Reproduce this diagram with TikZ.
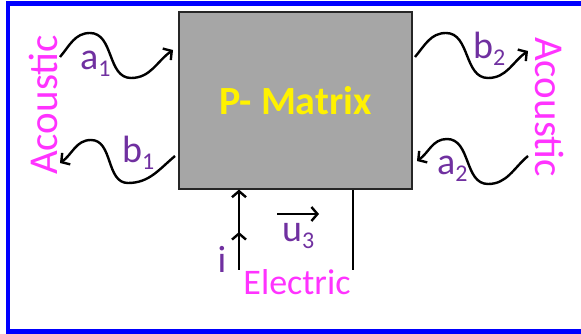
\documentclass[tikz,border=0pt]{standalone}
\usepackage{fontspec}
\setmainfont{Carlito}
\usetikzlibrary{arrows.meta}
\definecolor{frameblue}{RGB}{0,0,255}
\definecolor{boxgray}{RGB}{166,166,166}
\definecolor{lblpurple}{RGB}{112,48,160}
\definecolor{portpink}{RGB}{255,51,255}
\newcommand{\lblsub}[1]{\raisebox{-7pt}{\fontsize{24}{24}\selectfont #1}}

\begin{document}
\begin{tikzpicture}[x=1pt, y=1pt,
    wave/.style={line width=2.4pt, -{Straight Barb[length=6pt,width=14pt]}},
    lbl/.style={text=lblpurple, font=\fontsize{38}{38}\selectfont, inner sep=0pt, anchor=base west},
    port/.style={text=portpink, font=\fontsize{41}{41}\selectfont, inner sep=0pt}]
    \useasboundingbox (0,0) rectangle (581,334);
    % frame, open on the right
    \draw[frameblue, line width=4.5pt] (581,330.5) -- (8,330.5) -- (8,2.5) -- (581,2.5);
    \node[draw=black!85, line width=1.2pt, fill=boxgray, minimum width=233pt, minimum height=177pt,
          inner sep=0pt, text=yellow, font=\bfseries\fontsize{40}{40}\selectfont] (pmat) at (295.5,233.5) {P- Matrix};
    % acoustic ports
    \node[port, rotate=90] (acl) at (43,229) {Acoustic};
    \node[port, rotate=-90] (acr) at (550,227) {Acoustic};
    \coordinate (a1s) at (60,277);  \coordinate (a1p) at (90,301);
    \coordinate (a1t) at (131,256); \coordinate (a1e) at (173,284);
    \coordinate (b1s) at (175,178); \coordinate (b1t) at (128,151);
    \coordinate (b1p) at (91,194);  \coordinate (b1e) at (60,171);
    \coordinate (b2s) at (415,277); \coordinate (b2p) at (446,301);
    \coordinate (b2t) at (488,256); \coordinate (b2e) at (528,283);
    \coordinate (a2s) at (528,178); \coordinate (a2t) at (488,150);
    \coordinate (a2p) at (447,195); \coordinate (a2e) at (417,173);
    \draw[wave] (a1s) to[out=50,in=180] (a1p) to[out=0,in=180] (a1t) to[out=0,in=215] (a1e);
    \draw[wave] (b1s) to[out=220,in=0] (b1t) to[out=180,in=0] (b1p) to[out=180,in=35] (b1e);
    \draw[wave] (b2s) to[out=50,in=180] (b2p) to[out=0,in=180] (b2t) to[out=0,in=215] (b2e);
    \draw[wave] (a2s) to[out=220,in=0] (a2t) to[out=180,in=0] (a2p) to[out=180,in=35] (a2e);
    \node[lbl] (la1) at (80,264) {a\lblsub{1}};
    \node[lbl] (lb1) at (122,171) {b\lblsub{1}};
    \node[lbl] (lb2) at (473,275) {b\lblsub{2}};
    \node[lbl] (la2) at (437,159) {a\lblsub{2}};
    % electric port
    \coordinate (ibot) at (239,64);
    \coordinate (imid) at (239,102);
    \coordinate (ebot) at (353,64);
    \draw[wave] (ibot) -- (imid);
    \draw[wave] (ibot) -- (pmat.south -| ibot);
    \draw[line width=2.4pt] (ebot) -- (pmat.south -| ebot);
    \node[lbl, anchor=base] (li) at (222,61) {i};
    \coordinate (u3s) at (277,120);
    \coordinate (u3e) at (319,120);
    \draw[wave] (u3s) -- (u3e);
    \node[lbl] (lu3) at (282,92) {u\lblsub{3}};
    \node[port, anchor=base, font=\fontsize{36}{36}\selectfont] (elec) at (297,39) {Electric};
\end{tikzpicture}
\end{document}
